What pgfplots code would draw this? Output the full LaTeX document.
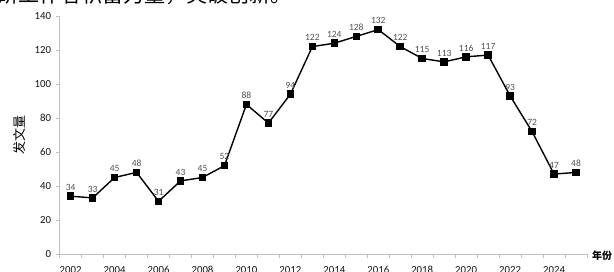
\documentclass[border=0pt]{standalone}
\usepackage{fontspec}
\setmainfont{Carlito}
\newfontfamily\cjk{Noto Sans CJK SC}
\usepackage{pgfplots}
\pgfplotsset{compat=1.18}
\definecolor{axgray}{RGB}{191,191,191}
\definecolor{tickgray}{RGB}{20,20,20}
\definecolor{lblgray}{RGB}{80,80,80}
\begin{document}
\begin{tikzpicture}
\path[use as bounding box] (0,0) rectangle (614pt,271pt);
\node[anchor=base west, inner sep=0pt, font=\cjk\fontsize{21}{21}\selectfont] at (-3pt,268.5pt) {研工作者积蓄力量，突破创新。};
\begin{axis}[
  at={(59.7pt,17pt)}, anchor=south west,
  scale only axis, width=527.3pt, height=238pt,
  xmin=2001.5, xmax=2025.5, ymin=0, ymax=140,
  axis x line*=bottom, axis y line*=left,
  axis line style={axgray, line width=0.8pt},
  tick style={axgray, line width=0.8pt},
  tick align=outside,
  major tick length=4pt,
  xtick={2001.5,2002.5,...,2025.5},
  xticklabels={},
  extra x ticks={2002,2004,...,2024},
  extra x tick labels={2002,2004,2006,2008,2010,2012,2014,2016,2018,2020,2022,2024},
  extra x tick style={tick style={draw=none}},
  ytick={0,20,...,140},
  /pgf/number format/assume math mode=true,
  /pgf/number format/set thousands separator={},
  ticklabel style={font=\fontsize{10.8}{11}\selectfont, text=tickgray},
  xticklabel style={yshift=-5pt},
  yticklabel style={xshift=-1pt},
  nodes near coords,
  every node near coord/.append style={font=\fontsize{9.5}{10}\selectfont, text=lblgray, anchor=south, inner sep=1pt, yshift=4pt},
  clip=false,
]
\addplot[black, line width=1.4pt, mark=square*, mark size=3.1pt] coordinates {
(2002,34) (2003,33) (2004,45) (2005,48) (2006,31) (2007,43) (2008,45) (2009,52)
(2010,88) (2011,77) (2012,94) (2013,122) (2014,124) (2015,128) (2016,132) (2017,122)
(2018,115) (2019,113) (2020,116) (2021,117) (2022,93) (2023,72) (2024,47) (2025,48)
};
\node[anchor=west, inner sep=0pt, font=\cjk\bfseries\fontsize{10}{11}\selectfont, xshift=5pt, yshift=-2pt] at (rel axis cs:1,0) {年份};
\node[xshift=-40pt, rotate=90, font=\cjk\fontsize{13}{13}\selectfont] at (rel axis cs:0,0.5) {发文量};
\end{axis}
\end{tikzpicture}
\end{document}
